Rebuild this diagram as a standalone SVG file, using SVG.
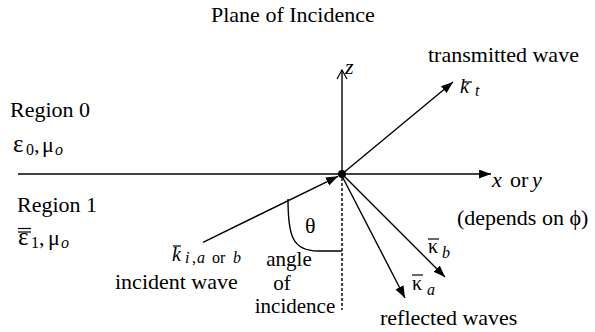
<svg xmlns="http://www.w3.org/2000/svg" width="595" height="332" viewBox="0 0 595 332" font-family="Liberation Serif, DejaVu Serif, serif">
<style>
text{font-family:'Liberation Serif','DejaVu Serif',serif;font-size:22px;fill:#000}
.i{font-style:italic}
.s{font-size:16px}
.g{font-size:20px}
.e{font-size:25px}
.a{font-size:21px}
.ln{stroke:#000;stroke-width:1.4;fill:none}
.bar{stroke:#000;stroke-width:1.2;fill:none}
</style>
<defs>
<marker id="ah" markerUnits="userSpaceOnUse" markerWidth="13" markerHeight="10" refX="12" refY="4.5" orient="auto">
<path d="M0,0 L12,4.5 L0,9 Z" fill="#000"/>
</marker>
</defs>
<g id="title"><text x="211" y="22">Plane of Incidence</text></g>
<g id="region0">
<text x="10" y="117">Region 0</text>
<text x="13" y="152" class="e">ε</text><text x="26" y="155" class="s">0</text><text x="34" y="152">,</text>
<text x="42" y="152">μ</text><text x="55" y="155" class="s i">o</text>
</g>
<g id="region1">
<text x="17" y="212">Region 1</text>
<line x1="18" y1="228.5" x2="31" y2="228.5" class="bar"/>
<line x1="18" y1="232" x2="31" y2="232" class="bar"/>
<text x="18" y="245" class="e">ε</text><text x="31" y="248" class="s">1</text><text x="39" y="245">,</text>
<text x="48" y="245">μ</text><text x="61" y="248" class="s i">o</text>
</g>
<g id="connectors">
<line x1="18" y1="174" x2="491" y2="174" class="ln" marker-end="url(#ah)"/>
<line x1="342" y1="174" x2="342" y2="70" class="ln"/>
<polyline points="337,79 342,70 347,79" class="bar"/>
<line x1="342" y1="174" x2="453" y2="82" class="ln" marker-end="url(#ah)"/>
<line x1="203" y1="242.3" x2="338" y2="176.3" class="ln" marker-end="url(#ah)"/>
<line x1="342" y1="176" x2="405" y2="298" class="ln" marker-end="url(#ah)"/>
<line x1="343" y1="175" x2="445" y2="277" class="ln" marker-end="url(#ah)"/>
<line x1="342" y1="178" x2="342" y2="310" class="ln" stroke-dasharray="3,2"/>
<path d="M288,199 C288,235 292,251 318,251 L342,251" class="ln"/>
<circle cx="342" cy="174" r="4" fill="#000"/>
</g>
<g id="z-label"><text x="345" y="74" class="i" font-size="18">z</text></g>
<g id="x-label">
<text x="492" y="187" class="i">x</text><text x="510" y="187">or</text><text x="532" y="187" class="i">y</text>
<text x="457" y="225">(depends on ϕ)</text>
</g>
<g id="transmitted">
<text x="428" y="62">transmitted wave</text>
<line x1="463" y1="82" x2="472" y2="82" class="bar"/>
<text x="460" y="93" class="i g">k</text><text x="475" y="96" class="i s">t</text>
</g>
<g id="incident">
<line x1="173" y1="246" x2="181" y2="246" class="bar"/>
<text x="172" y="261" class="i g">k</text>
<text x="185" y="263" class="s i">i</text><text x="192" y="263" class="s">,</text><text x="197" y="263" class="s i">a</text><text x="212" y="263" class="s">or</text><text x="233" y="263" class="s i">b</text>
<text x="115" y="289">incident wave</text>
</g>
<g id="angle">
<text x="305" y="233">θ</text>
<text x="289" y="266" text-anchor="middle" class="a">angle</text>
<text x="282" y="289.5" text-anchor="middle" class="a">of</text>
<text x="295" y="313" text-anchor="middle" class="a">incidence</text>
</g>
<g id="reflected">
<line x1="428" y1="239" x2="439" y2="239" class="bar"/>
<text x="428" y="253" class="g">κ</text><text x="442" y="258" class="s i">b</text>
<line x1="412" y1="275" x2="423" y2="275" class="bar"/>
<text x="412" y="290" class="g">κ</text><text x="427" y="295" class="s i">a</text>
<text x="380" y="325">reflected waves</text>
</g>
</svg>
